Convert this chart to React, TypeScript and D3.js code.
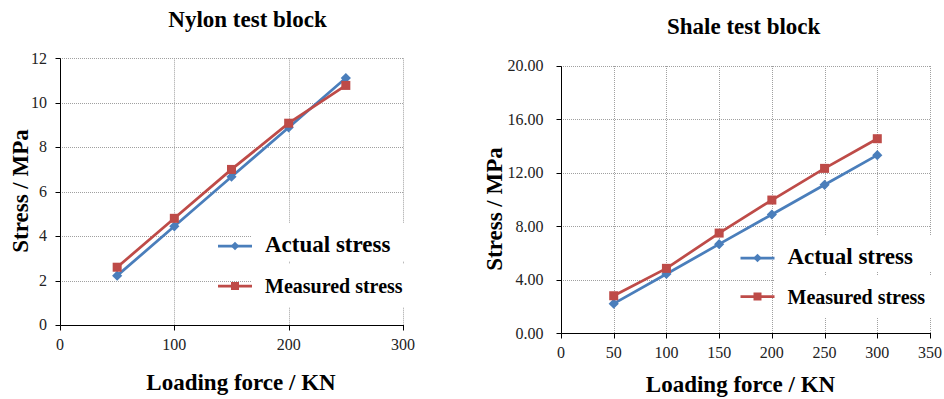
import React from "react";
import * as d3 from "d3";

const nylonForce = [50, 100, 150, 200, 250];
const nylonActual = [2.22, 4.44, 6.67, 8.89, 11.11];
const nylonMeasured = [2.6, 4.8, 7.0, 9.08, 10.78];
const nylonXTicks = [0, 100, 200, 300];
const nylonYTicks = [0, 2, 4, 6, 8, 10, 12];

const shaleForce = [50, 100, 150, 200, 250, 300];
const shaleActual = [2.22, 4.44, 6.67, 8.89, 11.11, 13.33];
const shaleMeasured = [2.81, 4.86, 7.5, 9.97, 12.34, 14.56];
const shaleXTicks = [0, 50, 100, 150, 200, 250, 300, 350];
const shaleYTicks = [0, 4, 8, 12, 16, 20];

const seriesNames = ["Actual stress", "Measured stress"];
const BLUE = "#4A7EBB";
const RED = "#BE4B48";
const FONT = "Liberation Serif";

type ChartProps = {
  title: string;
  titleX: number;
  titleY: number;
  x: number[];
  actual: number[];
  measured: number[];
  xTicks: number[];
  yTicks: number[];
  yFmt: (v: number) => string;
  left: number;
  right: number;
  top: number;
  bottom: number;
  yLabelGap: number;
  yTitleX: number;
  yTitleY: number;
  xTitleX: number;
  xTitleY: number;
  legX: number;
  legY1: number;
  legY2: number;
  legBox: [number, number, number, number, number];
};

function Chart(p: ChartProps) {
  const xs = d3
    .scaleLinear()
    .domain([p.xTicks[0], p.xTicks[p.xTicks.length - 1]])
    .range([p.left, p.right]);
  const ys = d3
    .scaleLinear()
    .domain([p.yTicks[0], p.yTicks[p.yTicks.length - 1]])
    .range([p.bottom, p.top]);
  const line = d3
    .line<number>()
    .x((_, i) => xs(p.x[i]))
    .y((d) => ys(d));
  const grid = "#a0a0a0";
  const r = (v: number) => Math.round(v) + 0.5;
  const [bx0, bx1, by0, by1, by2] = p.legBox;
  const lineL = p.legX - 47;
  const lineR = p.legX - 13;
  return (
    <g>
      <text x={p.titleX} y={p.titleY} textAnchor="middle" fontFamily={FONT} fontWeight="bold" fontSize={23}>
        {p.title}
      </text>
      {/* gridlines */}
      {p.yTicks.slice(1).map((t) => (
        <line key={"gy" + t} x1={p.left} x2={p.right} y1={r(ys(t))} y2={r(ys(t))} stroke={grid} strokeDasharray="1,1" />
      ))}
      {p.xTicks.slice(1).map((t) => (
        <line key={"gx" + t} x1={r(xs(t))} x2={r(xs(t))} y1={p.top} y2={p.bottom} stroke={grid} strokeDasharray="1,1" />
      ))}
      {/* legend background */}
      <rect x={bx0} y={by0} width={bx1 - bx0} height={by1 - by0 - 2} fill="#fff" />
      <rect x={bx0} y={by1 + 1} width={bx1 - bx0} height={by2 - by1 - 1} fill="#fff" />
      {/* axes */}
      <line x1={r(p.left)} x2={r(p.left)} y1={r(p.top)} y2={r(p.bottom)} stroke="#000" />
      <line x1={r(p.left)} x2={p.right + 1} y1={r(p.bottom)} y2={r(p.bottom)} stroke="#000" />
      {p.yTicks.map((t) => (
        <g key={"ty" + t}>
          <line x1={r(p.left) - 5} x2={r(p.left)} y1={r(ys(t))} y2={r(ys(t))} stroke="#000" />
          <text x={p.left - p.yLabelGap} y={ys(t)} dy="0.33em" textAnchor="end" fontFamily={FONT} fontSize={16} fill="#222">
            {p.yFmt(t)}
          </text>
        </g>
      ))}
      {p.xTicks.map((t) => (
        <g key={"tx" + t}>
          <line x1={r(xs(t))} x2={r(xs(t))} y1={r(p.bottom)} y2={r(p.bottom) + 5} stroke="#000" />
          <text x={xs(t)} y={p.bottom + 25} textAnchor="middle" fontFamily={FONT} fontSize={16} fill="#222">
            {t}
          </text>
        </g>
      ))}
      {/* axis titles */}
      <text
        transform={`translate(${p.yTitleX},${p.yTitleY}) rotate(-90)`}
        textAnchor="middle"
        fontFamily={FONT}
        fontWeight="bold"
        fontSize={23}
      >
        Stress / MPa
      </text>
      <text x={p.xTitleX} y={p.xTitleY} textAnchor="middle" fontFamily={FONT} fontWeight="bold" fontSize={23}>
        Loading force / KN
      </text>
      {/* series */}
      <path d={line(p.actual) || ""} fill="none" stroke={BLUE} strokeWidth={2.75} />
      {p.actual.map((v, i) => (
        <rect
          key={"a" + i}
          x={-3.6}
          y={-3.6}
          width={7.2}
          height={7.2}
          fill={BLUE}
          transform={`translate(${xs(p.x[i])},${ys(v)}) rotate(45)`}
        />
      ))}
      <path d={line(p.measured) || ""} fill="none" stroke={RED} strokeWidth={2.75} />
      {p.measured.map((v, i) => (
        <rect key={"m" + i} x={xs(p.x[i]) - 4.5} y={ys(v) - 4.5} width={9} height={9} fill={RED} />
      ))}
      {/* legend */}
      <line x1={lineL} x2={lineR} y1={p.legY1 - 6} y2={p.legY1 - 6} stroke={BLUE} strokeWidth={2.75} />
      <rect x={-3} y={-3} width={6} height={6} fill={BLUE} transform={`translate(${(lineL + lineR) / 2},${p.legY1 - 6}) rotate(45)`} />
      <text x={p.legX} y={p.legY1} fontFamily={FONT} fontWeight="bold" fontSize={23}>
        {seriesNames[0]}
      </text>
      <line x1={lineL} x2={lineR} y1={p.legY2 - 7} y2={p.legY2 - 7} stroke={RED} strokeWidth={2.75} />
      <rect x={(lineL + lineR) / 2 - 4} y={p.legY2 - 11} width={8} height={8} fill={RED} />
      <text x={p.legX} y={p.legY2} fontFamily={FONT} fontWeight="bold" fontSize={20}>
        {seriesNames[1]}
      </text>
    </g>
  );
}

export default function App() {
  return (
    <svg width={944} height={399} style={{ position: "absolute", left: 0, top: 0, background: "#fff" }}>
      <rect width={944} height={399} fill="#fff" />
      <Chart
        title="Nylon test block"
        titleX={247.5}
        titleY={27}
        x={nylonForce}
        actual={nylonActual}
        measured={nylonMeasured}
        xTicks={nylonXTicks}
        yTicks={nylonYTicks}
        yFmt={(v) => String(v)}
        left={60}
        right={403}
        top={58.3}
        bottom={325}
        yLabelGap={13}
        yTitleX={28}
        yTitleY={191}
        xTitleX={241}
        xTitleY={390}
        legX={265}
        legY1={252}
        legY2={293}
        legBox={[252, 406, 223, 263, 307]}
      />
      <Chart
        title="Shale test block"
        titleX={743.7}
        titleY={34.3}
        x={shaleForce}
        actual={shaleActual}
        measured={shaleMeasured}
        xTicks={shaleXTicks}
        yTicks={shaleYTicks}
        yFmt={(v) => v.toFixed(2)}
        left={561}
        right={930}
        top={66}
        bottom={333.3}
        yLabelGap={17.5}
        yTitleX={502}
        yTitleY={209}
        xTitleX={740.5}
        xTitleY={391.5}
        legX={787.5}
        legY1={264}
        legY2={303.5}
        legBox={[775, 935, 235, 274, 317]}
      />
    </svg>
  );
}
